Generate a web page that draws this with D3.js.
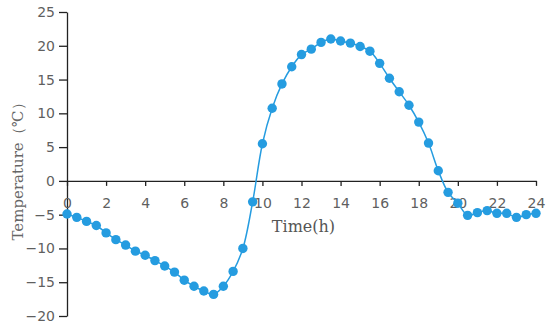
<!DOCTYPE html>
<html>
<head>
<meta charset="utf-8">
<script src="https://cdn.jsdelivr.net/npm/d3@7"></script>
<style>
  body { margin: 0; background: #fff; }
</style>
</head>
<body>
<div id="chart"></div>
<script>
// data: one reading every half hour
const hours = [0, 0.5, 1, 1.5, 2, 2.5, 3, 3.5, 4, 4.5, 5, 5.5, 6, 6.5, 7, 7.5, 8, 8.5, 9, 9.5,
  10, 10.5, 11, 11.5, 12, 12.5, 13, 13.5, 14, 14.5, 15, 15.5, 16, 16.5, 17, 17.5, 18, 18.5,
  19, 19.5, 20, 20.5, 21, 21.5, 22, 22.5, 23, 23.5, 24];
const temps = [-4.9, -5.4, -6.0, -6.6, -7.7, -8.7, -9.5, -10.4, -11.0, -11.8, -12.6, -13.5, -14.7,
  -15.6, -16.3, -16.8, -15.6, -13.4, -10.0, -3.1, 5.5, 10.75, 14.35, 16.9, 18.7, 19.5, 20.5, 21.0,
  20.7, 20.4, 19.9, 19.2, 17.4, 15.2, 13.2, 11.2, 8.7, 5.6, 1.5, -1.7, -3.3, -5.1, -4.7, -4.4,
  -4.8, -4.8, -5.4, -5.0, -4.8];
const xTicks = [0, 2, 4, 6, 8, 10, 12, 14, 16, 18, 20, 22, 24];
const yTicks = [-20, -15, -10, -5, 0, 5, 10, 15, 20, 25];

const WIDTH = 550;
const HEIGHT = 327;
const margin = { top: 12, right: 14, bottom: 11, left: 67 };
const width = WIDTH - margin.left - margin.right;
const height = HEIGHT - margin.top - margin.bottom;

const blue = "#259ce0";

const svg = d3
  .select("#chart")
  .append("svg")
  .attr("width", WIDTH)
  .attr("height", HEIGHT)
  .append("g")
  .attr("transform", `translate(${margin.left}, ${margin.top})`);

const data = hours.map((h, i) => ({ h: h, t: temps[i] }));

const x = d3.scaleLinear().domain([0, 24]).range([0, width]);
const y = d3.scaleLinear().domain([-20, 25]).range([height, 0]);

// y axis
const yAxis = svg
  .append("g")
  .call(d3.axisLeft(y).tickValues(yTicks).tickSize(8).tickPadding(4).tickSizeOuter(0));
yAxis.select(".domain").attr("stroke", "#222").attr("stroke-width", 1.3);
yAxis.selectAll(".tick line").attr("stroke", "#222").attr("stroke-width", 1.3);
yAxis
  .selectAll("text")
  .attr("fill", "#5f5f5f")
  .style("font-family", "DejaVu Sans")
  .style("font-size", "14px");

// x axis through zero
const xAxis = svg
  .append("g")
  .attr("transform", `translate(0, ${y(0)})`)
  .call(d3.axisBottom(x).tickValues(xTicks).tickSize(5).tickPadding(12).tickSizeOuter(0));
xAxis.select(".domain").attr("stroke", "#222").attr("stroke-width", 1.3);
xAxis.selectAll(".tick line").attr("stroke", "#222").attr("stroke-width", 1.3);
xAxis
  .selectAll("text")
  .attr("fill", "#5f5f5f")
  .style("font-family", "DejaVu Sans")
  .style("font-size", "14px");

// line
const line = d3
  .line()
  .x(d => x(d.h))
  .y(d => y(d.t))
  .curve(d3.curveCatmullRom);

svg
  .append("path")
  .datum(data)
  .attr("fill", "none")
  .attr("stroke", blue)
  .attr("stroke-width", 1.5)
  .attr("d", line);

svg
  .selectAll("circle")
  .data(data)
  .join("circle")
  .attr("cx", d => x(d.h))
  .attr("cy", d => y(d.t))
  .attr("r", 4.7)
  .attr("fill", blue);

// axis titles
svg
  .append("text")
  .attr("x", x(12.1))
  .attr("y", y(0) + 51)
  .attr("text-anchor", "middle")
  .attr("fill", "#555")
  .style("font-family", "DejaVu Serif")
  .style("font-size", "16px")
  .text("Time(h)");

svg
  .append("text")
  .attr("transform", `translate(${23 - margin.left}, ${168 - margin.top}) rotate(-90)`)
  .attr("text-anchor", "middle")
  .attr("fill", "#666")
  .style("font-family", "DejaVu Serif")
  .style("font-size", "15px")
  .text("Temperature（℃）");
</script>
</body>
</html>
